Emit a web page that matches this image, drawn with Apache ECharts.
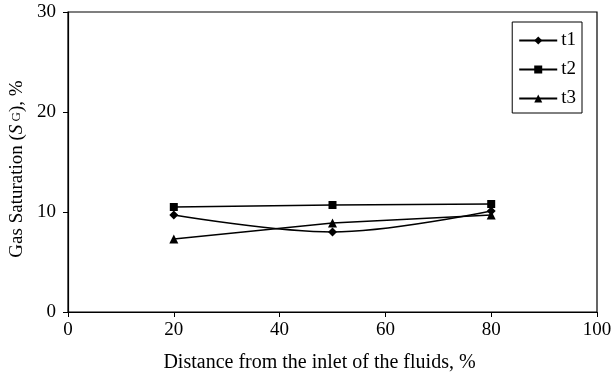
<!DOCTYPE html>
<html>
<head>
<meta charset="utf-8">
<script src="https://cdn.jsdelivr.net/npm/echarts@6/dist/echarts.min.js"></script>
<style>
  html, body { margin: 0; padding: 0; background: #fff; }
  #chart { width: 612px; height: 374px; }
</style>
</head>
<body>
<div id="chart"></div>
<script>
// distance from inlet, %
var distance = [20, 50, 80];
// gas saturation, %
var t1 = [9.7, 8.0, 10.1];
var t2 = [10.5, 10.7, 10.8];
var t3 = [7.3, 8.9, 9.7];
var seriesNames = ['t1', 't2', 't3'];

var chart = echarts.init(document.getElementById('chart'));
var font = 'Liberation Serif, Times New Roman, serif';

function pairs(ys) {
    return distance.map(function (x, i) { return [x, ys[i]]; });
}

function makeSeries(name, ys, symbol, size, smooth) {
    return {
        name: name,
        type: 'line',
        data: pairs(ys),
        smooth: smooth,
        symbol: symbol,
        symbolSize: size,
        lineStyle: { color: '#000', width: 1.3 },
        itemStyle: { color: '#000' },
        emphasis: { disabled: true }
    };
}

var option = {
    animation: false,
    backgroundColor: '#fff',
    textStyle: { fontFamily: font },
    grid: {
        left: 68, right: 15, top: 12, bottom: 62,
        outerBoundsMode: 'none',
        show: true, borderColor: '#000', borderWidth: 1.2
    },
    legend: {
        orient: 'vertical',
        right: 30, top: 22,
        padding: [9, 6, 5, 6],
        itemGap: 10,
        itemWidth: 38, itemHeight: 10,
        borderColor: '#000', borderWidth: 1,
        textStyle: { fontFamily: font, fontSize: 19, color: '#000', padding: [0, 0, 0, -1] },
        data: seriesNames
    },
    xAxis: {
        type: 'value',
        min: 0, max: 100, interval: 20,
        name: 'Distance from the inlet of the fluids, %',
        nameLocation: 'middle',
        nameGap: 41,
        nameTextStyle: { fontFamily: font, fontSize: 20, color: '#000', padding: [0, 26, 0, 0] },
        axisLine: { lineStyle: { color: '#000', width: 1.2 } },
        axisTick: { show: true, length: 5, lineStyle: { color: '#000' } },
        axisLabel: { fontFamily: font, fontSize: 19, color: '#000', margin: 9 },
        splitLine: { show: false }
    },
    yAxis: {
        type: 'value',
        min: 0, max: 30, interval: 10,
        name: '{n|Gas Saturation (}{i|S}{s| G}{n|), %}',
        nameLocation: 'middle',
        nameGap: 39,
        nameTextStyle: {
            padding: [0, 14, 0, 0],
            rich: {
                n: { fontFamily: font, fontSize: 19, color: '#000' },
                i: { fontFamily: font, fontSize: 19, color: '#000', fontStyle: 'italic' },
                s: { fontFamily: font, fontSize: 13, color: '#000' }
            }
        },
        axisLine: { lineStyle: { color: '#000', width: 1.2 } },
        axisTick: { show: true, length: 5, lineStyle: { color: '#000' } },
        axisLabel: { fontFamily: font, fontSize: 19, color: '#000', margin: 12 },
        splitLine: { show: false }
    },
    series: [
        makeSeries(seriesNames[0], t1, 'diamond', 9, 0.35),
        makeSeries(seriesNames[1], t2, 'rect', 8, false),
        makeSeries(seriesNames[2], t3, 'triangle', 9, false)
    ]
};
chart.setOption(option);
</script>
</body>
</html>
